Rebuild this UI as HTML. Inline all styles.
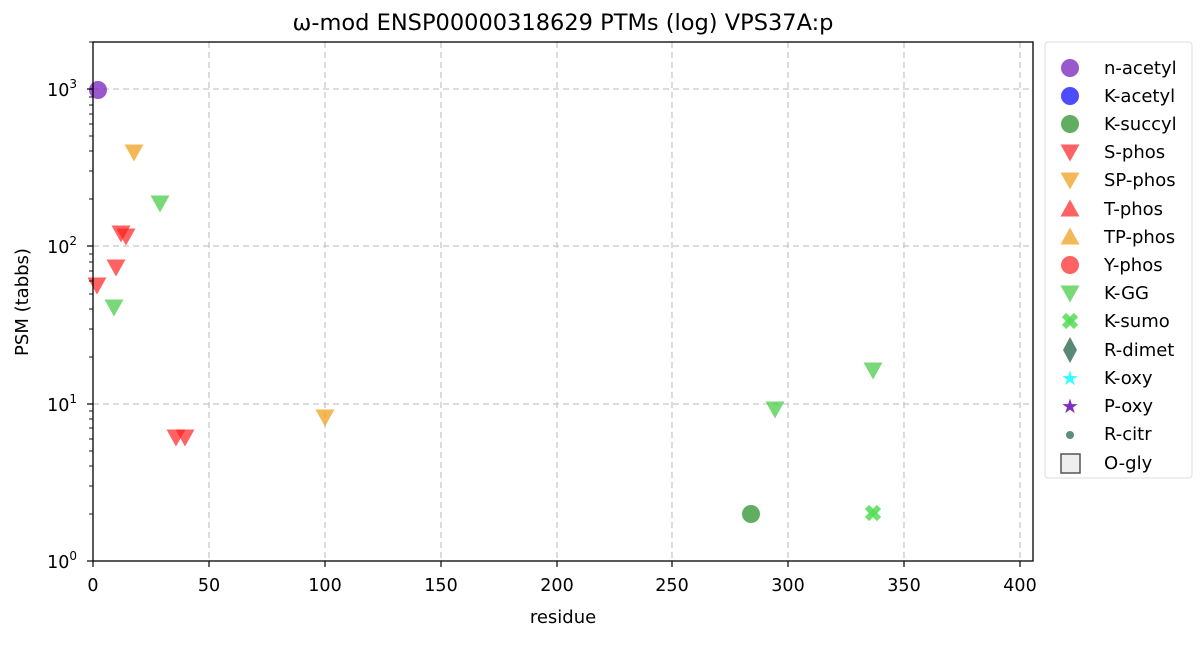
<!DOCTYPE html>
<html><head><meta charset="utf-8"><style>
body{margin:0;background:#fff;width:1200px;height:640px;overflow:hidden}
text{font-family:"DejaVu Sans","Liberation Sans",sans-serif;fill:#000}
</style></head><body>
<svg width="1200" height="640" xmlns="http://www.w3.org/2000/svg">
<defs>
<path id="td" d="M-9.5,-7.5 L9.5,-7.5 L0,9.5 Z"/>
<path id="tu" d="M-9.5,7.5 L9.5,7.5 L0,-9.5 Z"/>
</defs>
<rect width="1200" height="640" fill="#fff"/>
<text x="563" y="30" font-size="22.5" text-anchor="middle">ω-mod ENSP00000318629 PTMs (log) VPS37A:p</text>
<g stroke="#c8c8c8" stroke-width="1.3" stroke-dasharray="6,4">
<line x1="209" y1="42" x2="209" y2="561"/><line x1="325" y1="42" x2="325" y2="561"/>
<line x1="441" y1="42" x2="441" y2="561"/><line x1="557" y1="42" x2="557" y2="561"/>
<line x1="672" y1="42" x2="672" y2="561"/><line x1="788" y1="42" x2="788" y2="561"/>
<line x1="904" y1="42" x2="904" y2="561"/><line x1="1020" y1="42" x2="1020" y2="561"/>
<line x1="93" y1="404" x2="1033" y2="404"/><line x1="93" y1="246" x2="1033" y2="246"/>
<line x1="93" y1="89" x2="1033" y2="89"/>
</g>
<circle cx="98" cy="90" r="9" fill="#7f2fbf" fill-opacity="0.8"/>
<g fill="#f0a020" fill-opacity="0.75">
<use href="#td" x="134" y="152"/><use href="#td" x="325" y="417"/>
</g>
<g fill="#4ccc4c" fill-opacity="0.75">
<use href="#td" x="160" y="203"/><use href="#td" x="114" y="307"/>
<use href="#td" x="775" y="409"/><use href="#td" x="873" y="370"/>
</g>
<g fill="#ff2020" fill-opacity="0.7">
<use href="#td" x="121" y="233"/><use href="#td" x="126" y="236"/>
<use href="#td" x="116" y="267"/><use href="#td" x="97" y="285"/>
<use href="#td" x="176" y="437"/><use href="#td" x="185" y="437"/>
</g>
<circle cx="751" cy="514" r="9" fill="#3a9a3a" fill-opacity="0.8"/>
<g stroke="#55dd55" stroke-opacity="0.85" stroke-width="6"><line x1="867" y1="507" x2="879" y2="519"/><line x1="879" y1="507" x2="867" y2="519"/></g>
<rect x="93" y="42" width="940" height="519" fill="none" stroke="#000" stroke-width="1.3"/>
<g stroke="#000" stroke-width="1.2">
<line x1="93" y1="561" x2="93" y2="567"/><line x1="209" y1="561" x2="209" y2="567"/>
<line x1="325" y1="561" x2="325" y2="567"/><line x1="441" y1="561" x2="441" y2="567"/>
<line x1="557" y1="561" x2="557" y2="567"/><line x1="672" y1="561" x2="672" y2="567"/>
<line x1="788" y1="561" x2="788" y2="567"/><line x1="904" y1="561" x2="904" y2="567"/>
<line x1="1020" y1="561" x2="1020" y2="567"/>
<line x1="87" y1="561" x2="93" y2="561"/><line x1="87" y1="404" x2="93" y2="404"/>
<line x1="87" y1="246" x2="93" y2="246"/><line x1="87" y1="89" x2="93" y2="89"/>
</g>
<g stroke="#000" stroke-width="0.9">
<line x1="89" y1="514" x2="93" y2="514"/><line x1="89" y1="486" x2="93" y2="486"/><line x1="89" y1="466" x2="93" y2="466"/><line x1="89" y1="451" x2="93" y2="451"/><line x1="89" y1="439" x2="93" y2="439"/><line x1="89" y1="428" x2="93" y2="428"/><line x1="89" y1="419" x2="93" y2="419"/><line x1="89" y1="411" x2="93" y2="411"/>
<line x1="89" y1="357" x2="93" y2="357"/><line x1="89" y1="329" x2="93" y2="329"/><line x1="89" y1="309" x2="93" y2="309"/><line x1="89" y1="294" x2="93" y2="294"/><line x1="89" y1="281" x2="93" y2="281"/><line x1="89" y1="271" x2="93" y2="271"/><line x1="89" y1="262" x2="93" y2="262"/><line x1="89" y1="254" x2="93" y2="254"/>
<line x1="89" y1="199" x2="93" y2="199"/><line x1="89" y1="171" x2="93" y2="171"/><line x1="89" y1="151" x2="93" y2="151"/><line x1="89" y1="136" x2="93" y2="136"/><line x1="89" y1="124" x2="93" y2="124"/><line x1="89" y1="114" x2="93" y2="114"/><line x1="89" y1="105" x2="93" y2="105"/><line x1="89" y1="97" x2="93" y2="97"/>
<line x1="89" y1="42" x2="93" y2="42"/>
</g>
<g font-size="17.5" text-anchor="middle">
<text x="93" y="591">0</text><text x="209" y="591">50</text><text x="325" y="591">100</text>
<text x="441" y="591">150</text><text x="557" y="591">200</text><text x="672" y="591">250</text>
<text x="788" y="591">300</text><text x="904" y="591">350</text><text x="1020" y="591">400</text>
<text x="563" y="623" font-size="18">residue</text>
</g>
<g font-size="17.5" text-anchor="end">
<text x="77" y="568">10<tspan font-size="12" dy="-8">0</tspan></text>
<text x="77" y="411">10<tspan font-size="12" dy="-8">1</tspan></text>
<text x="77" y="253">10<tspan font-size="12" dy="-8">2</tspan></text>
<text x="77" y="96">10<tspan font-size="12" dy="-8">3</tspan></text>
</g>
<text transform="translate(28,302) rotate(-90)" font-size="18" text-anchor="middle">PSM (tabbs)</text>
<rect x="1045" y="42" width="147" height="436" rx="3" fill="#fff" stroke="#ddd"/>
<circle cx="1070" cy="68" r="9" fill="#7f2fbf" fill-opacity="0.8"/>
<circle cx="1070" cy="96" r="9" fill="#2020ff" fill-opacity="0.8"/>
<circle cx="1070" cy="124" r="9" fill="#3a9a3a" fill-opacity="0.8"/>
<use href="#td" x="1070" y="152" fill="#ff2020" fill-opacity="0.7"/>
<use href="#td" x="1070" y="180" fill="#f0a020" fill-opacity="0.75"/>
<use href="#tu" x="1070" y="209" fill="#ff2020" fill-opacity="0.7"/>
<use href="#tu" x="1070" y="237" fill="#f0a020" fill-opacity="0.75"/>
<circle cx="1070" cy="265" r="9" fill="#ff2020" fill-opacity="0.7"/>
<use href="#td" x="1070" y="293" fill="#4ccc4c" fill-opacity="0.75"/>
<g stroke="#55dd55" stroke-opacity="0.85" stroke-width="6"><line x1="1064" y1="315" x2="1076" y2="327"/><line x1="1076" y1="315" x2="1064" y2="327"/></g>
<path d="M1070,337 L1077,350 L1070,363 L1063,350 Z" fill="#2f6a50" fill-opacity="0.8"/>
<text x="1070" y="385" font-size="20" text-anchor="middle" style="fill:#33ffff">★</text>
<text x="1070" y="413" font-size="20" text-anchor="middle" style="fill:#7f2fbf">★</text>
<circle cx="1070" cy="435" r="4" fill="#3f7a60" fill-opacity="0.85"/>
<rect x="1061" y="454" width="19" height="19" fill="#eee" stroke="#555" stroke-width="1.5"/>
<g font-size="18">
<text x="1104" y="74">n-acetyl</text><text x="1104" y="102">K-acetyl</text><text x="1104" y="130">K-succyl</text>
<text x="1104" y="158">S-phos</text><text x="1104" y="186">SP-phos</text><text x="1104" y="215">T-phos</text>
<text x="1104" y="243">TP-phos</text><text x="1104" y="271">Y-phos</text><text x="1104" y="299">K-GG</text>
<text x="1104" y="327">K-sumo</text><text x="1104" y="356">R-dimet</text><text x="1104" y="384">K-oxy</text>
<text x="1104" y="412">P-oxy</text><text x="1104" y="440">R-citr</text><text x="1104" y="469">O-gly</text>
</g>
</svg>
</body></html>
